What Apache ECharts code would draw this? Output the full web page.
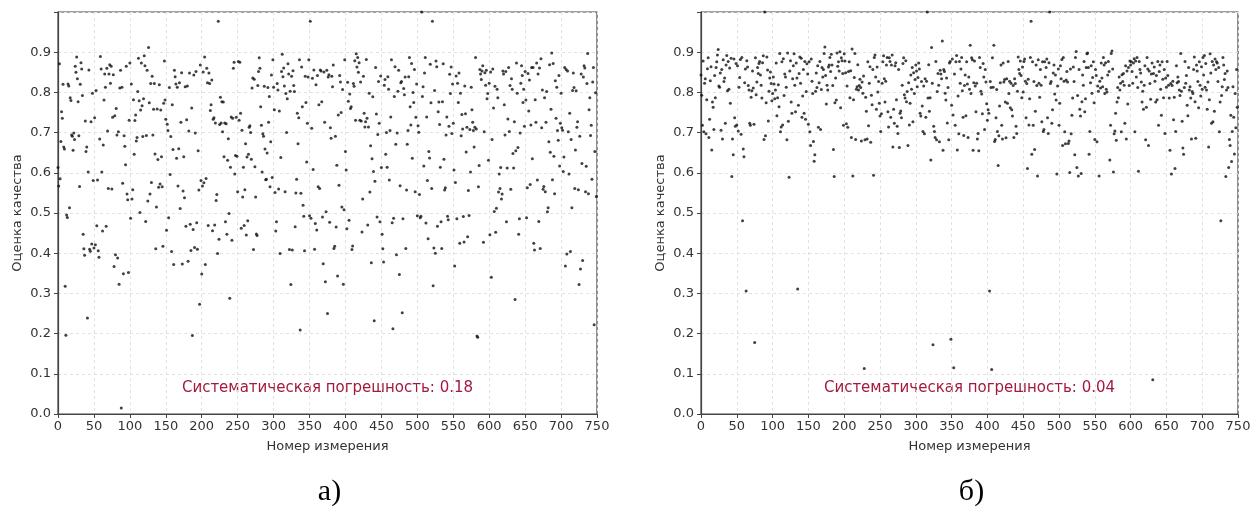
<!DOCTYPE html>
<html>
<head>
<meta charset="utf-8">
<script src="https://cdn.jsdelivr.net/npm/echarts@6/dist/echarts.min.js"></script>
<style>
  html, body { margin: 0; background: #fff; }
  #chart { width: 1257px; height: 511px; }
</style>
</head>
<body>
<div id="chart"></div>
<script>
// оценки качества, а) — с систематической погрешностью 0.18
const qualityA = [
  0.613,0.567,0.871,0.585,0.678,0.752,0.736,0.820,0.664,0.659,
  0.318,0.196,0.495,0.489,0.821,0.816,0.513,0.787,0.780,0.694,
  0.691,0.656,0.699,0.683,0.865,0.850,0.888,0.834,0.777,0.692,
  0.566,0.820,0.874,0.858,0.792,0.447,0.411,0.395,0.729,0.653,
  0.664,0.239,0.602,0.856,0.410,0.405,0.727,0.423,0.798,0.581,
  0.413,0.737,0.421,0.805,0.468,0.582,0.406,0.390,0.684,0.889,
  0.858,0.602,0.455,0.669,0.781,0.846,0.813,0.467,0.860,0.704,
  0.561,0.846,0.869,0.823,0.865,0.560,0.738,0.844,0.367,0.742,
  0.396,0.760,0.694,0.388,0.702,0.323,0.811,0.855,0.015,0.813,
  0.574,0.349,0.692,0.666,0.620,0.865,0.547,0.533,0.352,0.731,
  0.873,0.487,0.821,0.535,0.558,0.782,0.646,0.730,0.744,0.679,
  0.688,0.802,0.885,0.779,0.501,0.756,0.873,0.767,0.690,0.784,
  0.891,0.866,0.479,0.693,0.855,0.530,0.912,0.774,0.547,0.822,
  0.576,0.840,0.694,0.758,0.822,0.647,0.411,0.515,0.759,0.633,
  0.564,0.819,0.572,0.756,0.640,0.565,0.417,0.773,0.878,0.781,
  0.733,0.457,0.721,0.705,0.488,0.812,0.596,0.690,0.404,0.769,
  0.658,0.372,0.855,0.839,0.821,0.636,0.813,0.567,0.660,0.824,
  0.511,0.726,0.849,0.373,0.555,0.640,0.538,0.814,0.467,0.732,
  0.816,0.380,0.704,0.848,0.472,0.407,0.761,0.195,0.459,0.843,
  0.414,0.699,0.852,0.476,0.410,0.655,0.557,0.273,0.868,0.581,
  0.348,0.567,0.851,0.575,0.888,0.372,0.586,0.860,0.824,0.469,
  0.848,0.822,0.755,0.769,0.831,0.456,0.733,0.737,0.470,0.724,
  0.531,0.546,0.399,0.977,0.435,0.720,0.788,0.724,0.777,0.702,
  0.776,0.640,0.724,0.478,0.722,0.447,0.631,0.685,0.499,0.288,
  0.614,0.739,0.432,0.736,0.860,0.875,0.597,0.643,0.738,0.641,
  0.553,0.877,0.731,0.875,0.748,0.462,0.706,0.540,0.614,0.469,
  0.558,0.672,0.445,0.639,0.481,0.646,0.713,0.717,0.700,0.634,
  0.811,0.836,0.409,0.833,0.615,0.540,0.448,0.444,0.817,0.852,
  0.886,0.860,0.764,0.718,0.602,0.697,0.691,0.815,0.659,0.583,
  0.584,0.649,0.812,0.726,0.790,0.565,0.677,0.843,0.588,0.881,
  0.813,0.757,0.551,0.455,0.478,0.822,0.806,0.560,0.754,0.399,
  0.638,0.852,0.895,0.839,0.861,0.816,0.553,0.797,0.700,0.784,
  0.871,0.846,0.409,0.803,0.322,0.840,0.408,0.854,0.817,0.802,
  0.466,0.550,0.584,0.748,0.672,0.737,0.881,0.209,0.549,0.863,
  0.764,0.519,0.492,0.406,0.840,0.775,0.627,0.723,0.838,0.881,
  0.493,0.977,0.487,0.711,0.835,0.608,0.856,0.410,0.474,0.819,
  0.458,0.842,0.565,0.769,0.561,0.856,0.853,0.777,0.490,0.374,
  0.851,0.726,0.329,0.503,0.855,0.250,0.838,0.844,0.477,0.712,
  0.686,0.840,0.814,0.868,0.412,0.417,0.691,0.465,0.619,0.343,
  0.744,0.569,0.842,0.826,0.750,0.515,0.807,0.323,0.508,0.881,
  0.653,0.607,0.461,0.825,0.778,0.482,0.796,0.760,0.764,0.409,
  0.418,0.822,0.815,0.879,0.731,0.896,0.863,0.887,0.850,0.874,
  0.731,0.826,0.729,0.453,0.535,0.840,0.748,0.714,0.727,0.882,
  0.736,0.470,0.714,0.798,0.552,0.667,0.376,0.635,0.789,0.603,
  0.232,0.579,0.862,0.746,0.490,0.695,0.827,0.723,0.478,0.841,
  0.613,0.447,0.411,0.378,0.818,0.832,0.646,0.700,0.614,0.839,
  0.808,0.582,0.705,0.739,0.881,0.476,0.212,0.487,0.790,0.864,
  0.671,0.396,0.699,0.803,0.855,0.347,0.568,0.824,0.827,0.252,
  0.486,0.810,0.794,0.838,0.412,0.557,0.671,0.705,0.839,0.887,
  0.764,0.719,0.872,0.636,0.800,0.775,0.857,0.553,0.738,0.821,
  0.493,0.717,0.701,0.546,0.488,0.492,1.000,0.790,0.814,0.617,
  0.848,0.887,0.475,0.739,0.581,0.436,0.653,0.637,0.870,0.774,
  0.561,0.977,0.319,0.413,0.805,0.400,0.878,0.864,0.467,0.752,
  0.776,0.720,0.614,0.478,0.412,0.777,0.871,0.634,0.557,0.563,
  0.694,0.739,0.492,0.483,0.716,0.845,0.797,0.863,0.698,0.821,
  0.723,0.607,0.368,0.576,0.841,0.486,0.823,0.775,0.848,0.425,
  0.798,0.692,0.745,0.709,0.491,0.428,0.816,0.747,0.652,0.713,
  0.441,0.556,0.494,0.708,0.602,0.813,0.757,0.726,0.705,0.664,
  0.713,0.887,0.709,0.194,0.191,0.565,0.618,0.857,0.846,0.832,
  0.853,0.866,0.427,0.702,0.849,0.818,0.855,0.784,0.797,0.631,
  0.823,0.446,0.851,0.340,0.683,0.858,0.761,0.504,0.815,0.452,
  0.512,0.808,0.787,0.552,0.597,0.561,0.613,0.535,0.547,0.853,
  0.846,0.769,0.694,0.852,0.478,0.612,0.734,0.862,0.703,0.817,
  0.559,0.834,0.808,0.648,0.612,0.727,0.285,0.655,0.873,0.798,
  0.663,0.447,0.486,0.699,0.823,0.866,0.842,0.775,0.808,0.716,
  0.852,0.781,0.488,0.563,0.847,0.754,0.831,0.571,0.719,0.862,
  0.635,0.862,0.425,0.408,0.782,0.726,0.873,0.582,0.846,0.479,
  0.861,0.412,0.884,0.712,0.806,0.559,0.566,0.787,0.553,0.726,
  0.802,0.503,0.513,0.677,0.869,0.651,0.758,0.898,0.583,0.872,
  0.641,0.548,0.829,0.736,0.813,0.705,0.681,0.842,0.617,0.723,
  0.798,0.712,0.706,0.603,0.639,0.862,0.368,0.857,0.398,0.853,
  0.702,0.597,0.748,0.404,0.683,0.513,0.805,0.848,0.812,0.561,
  0.657,0.804,0.713,0.727,0.558,0.322,0.691,0.361,0.846,0.623,
  0.382,0.838,0.866,0.861,0.553,0.616,0.822,0.897,0.548,0.757,
  0.787,0.693,0.718,0.584,0.826,0.862,0.222,0.653,0.799,0.541
];

// оценки качества, б) — с систематической погрешностью 0.04
const qualityB = [
  0.843,0.793,0.718,0.878,0.702,0.823,0.834,0.697,0.782,0.859,
  0.886,0.688,0.733,0.829,0.864,0.657,0.776,0.763,0.708,0.842,
  0.787,0.862,0.876,0.893,0.907,0.816,0.813,0.848,0.706,0.857,
  0.684,0.881,0.827,0.836,0.723,0.868,0.892,0.804,0.877,0.808,
  0.861,0.773,0.885,0.591,0.684,0.645,0.883,0.737,0.716,0.872,
  0.719,0.866,0.704,0.813,0.837,0.882,0.696,0.887,0.481,0.659,
  0.640,0.824,0.858,0.306,0.879,0.863,0.817,0.806,0.723,0.718,
  0.788,0.804,0.853,0.811,0.721,0.178,0.886,0.794,0.826,0.862,
  0.847,0.872,0.877,0.843,0.818,0.786,0.874,0.891,0.683,1.000,
  0.692,0.774,0.888,0.856,0.729,0.803,0.836,0.851,0.822,0.779,
  0.797,0.838,0.821,0.784,0.806,0.873,0.742,0.787,0.819,0.764,
  0.897,0.702,0.714,0.876,0.719,0.884,0.792,0.846,0.838,0.813,
  0.682,0.898,0.728,0.589,0.853,0.879,0.776,0.748,0.834,0.866,
  0.896,0.818,0.752,0.873,0.836,0.311,0.768,0.847,0.888,0.823,
  0.885,0.738,0.791,0.857,0.748,0.877,0.733,0.802,0.871,0.846,
  0.721,0.876,0.702,0.668,0.883,0.828,0.797,0.678,0.629,0.645,
  0.803,0.848,0.812,0.866,0.713,0.824,0.877,0.708,0.807,0.862,
  0.838,0.857,0.897,0.913,0.842,0.771,0.818,0.806,0.863,0.868,
  0.887,0.852,0.895,0.868,0.817,0.658,0.591,0.774,0.836,0.781,
  0.898,0.865,0.876,0.853,0.901,0.762,0.886,0.879,0.847,0.718,
  0.896,0.878,0.849,0.722,0.816,0.713,0.852,0.876,0.787,0.854,
  0.688,0.908,0.592,0.782,0.837,0.897,0.683,0.808,0.814,0.869,
  0.806,0.817,0.833,0.812,0.679,0.826,0.798,0.841,0.113,0.682,
  0.788,0.753,0.684,0.876,0.717,0.823,0.864,0.676,0.793,0.769,
  0.857,0.594,0.887,0.893,0.838,0.758,0.863,0.801,0.827,0.773,
  0.741,0.703,0.747,0.823,0.876,0.891,0.834,0.776,0.828,0.868,
  0.887,0.752,0.714,0.886,0.877,0.738,0.868,0.893,0.664,0.758,
  0.723,0.866,0.874,0.782,0.716,0.698,0.857,0.663,0.748,0.754,
  0.737,0.818,0.872,0.886,0.794,0.786,0.879,0.777,0.802,0.668,
  0.824,0.719,0.773,0.843,0.808,0.862,0.727,0.849,0.797,0.832,
  0.868,0.853,0.814,0.837,0.873,0.858,0.748,0.741,0.827,0.766,
  0.703,0.816,0.697,0.834,0.738,0.828,1.000,0.786,0.869,0.753,
  0.787,0.632,0.912,0.823,0.172,0.716,0.703,0.688,0.877,0.682,
  0.802,0.847,0.818,0.677,0.855,0.846,0.834,0.928,0.656,0.857,
  0.852,0.798,0.781,0.836,0.724,0.812,0.682,0.873,0.877,0.186,
  0.768,0.883,0.744,0.115,0.846,0.718,0.876,0.892,0.657,0.791,
  0.697,0.877,0.823,0.858,0.887,0.804,0.738,0.693,0.817,0.843,
  0.742,0.876,0.821,0.688,0.838,0.808,0.917,0.797,0.886,0.881,
  0.656,0.824,0.878,0.816,0.752,0.823,0.684,0.698,0.655,0.887,
  0.862,0.803,0.796,0.747,0.872,0.838,0.708,0.857,0.826,0.772,
  0.731,0.757,0.748,0.306,0.827,0.812,0.111,0.886,0.813,0.917,
  0.678,0.683,0.737,0.807,0.703,0.618,0.692,0.766,0.824,0.868,
  0.718,0.684,0.873,0.826,0.832,0.776,0.687,0.834,0.773,0.877,
  0.797,0.828,0.762,0.823,0.757,0.741,0.817,0.688,0.834,0.822,
  0.716,0.698,0.803,0.888,0.857,0.847,0.878,0.842,0.787,0.863,
  0.801,0.877,0.883,0.828,0.737,0.822,0.611,0.833,0.719,0.784,
  0.887,0.977,0.646,0.876,0.718,0.827,0.658,0.753,0.868,0.817,
  0.592,0.881,0.823,0.788,0.857,0.818,0.727,0.876,0.703,0.708,
  0.876,0.838,0.862,0.883,0.737,0.698,0.874,1.000,0.822,0.827,
  0.723,0.757,0.848,0.868,0.796,0.843,0.781,0.597,0.816,0.858,
  0.718,0.773,0.866,0.834,0.882,0.668,0.887,0.828,0.702,0.672,
  0.831,0.852,0.826,0.673,0.679,0.601,0.858,0.697,0.743,0.786,
  0.863,0.827,0.645,0.887,0.902,0.613,0.792,0.592,0.857,0.758,
  0.741,0.598,0.777,0.843,0.818,0.877,0.752,0.784,0.862,0.896,
  0.898,0.862,0.646,0.703,0.824,0.866,0.798,0.837,0.876,0.774,
  0.683,0.857,0.842,0.677,0.816,0.803,0.592,0.828,0.811,0.873,
  0.836,0.814,0.887,0.868,0.797,0.874,0.808,0.801,0.843,0.877,
  0.852,0.632,0.718,0.897,0.903,0.858,0.602,0.697,0.704,0.748,
  0.681,0.776,0.812,0.787,0.838,0.806,0.823,0.702,0.844,0.827,
  0.847,0.818,0.723,0.866,0.684,0.853,0.771,0.862,0.817,0.878,
  0.868,0.876,0.852,0.823,0.873,0.884,0.702,0.878,0.838,0.887,
  0.812,0.604,0.877,0.857,0.848,0.826,0.776,0.803,0.758,0.818,
  0.866,0.682,0.763,0.887,0.858,0.668,0.853,0.822,0.783,0.846,
  0.873,0.085,0.847,0.863,0.828,0.776,0.842,0.782,0.877,0.718,
  0.852,0.868,0.808,0.743,0.876,0.833,0.787,0.857,0.698,0.836,
  0.813,0.877,0.842,0.818,0.786,0.656,0.822,0.597,0.817,0.828,
  0.732,0.788,0.611,0.703,0.866,0.824,0.838,0.827,0.806,0.792,
  0.897,0.803,0.728,0.662,0.646,0.812,0.877,0.823,0.842,0.768,
  0.742,0.862,0.806,0.814,0.786,0.684,0.802,0.797,0.857,0.888,
  0.777,0.686,0.868,0.853,0.827,0.762,0.876,0.818,0.791,0.864,
  0.808,0.887,0.843,0.892,0.813,0.872,0.806,0.758,0.826,0.664,
  0.782,0.896,0.848,0.723,0.877,0.727,0.868,0.753,0.883,0.857,
  0.876,0.873,0.827,0.862,0.702,0.776,0.481,0.792,0.814,0.887,
  0.868,0.832,0.847,0.591,0.806,0.853,0.812,0.613,0.683,0.668,
  0.743,0.628,0.703,0.814,0.738,0.647,0.797,0.712,0.857,0.763
];

const errors = [0.18, 0.04];
const captions = ['а)', 'б)'];
const xName = 'Номер измерения';
const yName = 'Оценка качества';

const chart = echarts.init(document.getElementById('chart'));

const font = 'DejaVu Sans';
const axisColor = '#444';
const gridsPos = [
  { left: 58, top: 12, width: 539, height: 402 },
  { left: 701, top: 12, width: 537, height: 402 }
];

function makeXAxis(i) {
  return {
    type: 'value', gridIndex: i, min: 0, max: 750, interval: 50,
    name: xName, nameLocation: 'middle', nameGap: 26,
    nameTextStyle: { color: '#333', fontSize: 13, fontFamily: font },
    axisLine: { onZero: false, lineStyle: { color: axisColor, width: 1.2 } },
    axisTick: { show: true, length: 4, lineStyle: { color: axisColor } },
    axisLabel: { color: '#333', fontSize: 13, margin: 6, fontFamily: font },
    splitLine: { show: true, lineStyle: { color: '#e2e2e2', type: [3, 3] } }
  };
}

function makeYAxis(i) {
  return {
    type: 'value', gridIndex: i, min: 0, max: 1, interval: 0.1,
    name: yName, nameLocation: 'middle', nameGap: 34,
    nameTextStyle: { color: '#333', fontSize: 13, fontFamily: font },
    axisLine: { onZero: false, lineStyle: { color: axisColor, width: 1.2 } },
    axisTick: { show: true, length: 4, lineStyle: { color: axisColor } },
    axisLabel: {
      color: '#333', fontSize: 13, margin: 7, fontFamily: font,
      formatter: v => (v > 0.95 ? '' : v.toFixed(1))
    },
    splitLine: { show: true, lineStyle: { color: '#e2e2e2', type: [3, 3] } }
  };
}

const option = {
  animation: false,
  backgroundColor: '#fff',
  grid: gridsPos.map(g => Object.assign({
    show: true, borderColor: axisColor, borderWidth: 1.2, backgroundColor: '#fff'
  }, g)),
  xAxis: [makeXAxis(0), makeXAxis(1)],
  yAxis: [makeYAxis(0), makeYAxis(1)],
  series: [qualityA, qualityB].map((arr, i) => ({
    type: 'scatter',
    xAxisIndex: i, yAxisIndex: i,
    data: arr.map((v, k) => [k, v]),
    symbolSize: 3,
    itemStyle: { color: '#111' },
    silent: true
  })),
  graphic: gridsPos.flatMap((g, i) => [
    {
      type: 'text', x: g.left + g.width / 2, y: 388,
      style: {
        text: 'Систематическая погрешность: ' + errors[i].toFixed(2),
        fill: '#a3193f', font: '15px "DejaVu Sans"',
        align: 'center', verticalAlign: 'middle',
        textAlign: 'center', textVerticalAlign: 'middle'
      }
    },
    {
      type: 'text', x: g.left + g.width / 2 + 2, y: 492,
      style: {
        text: captions[i],
        fill: '#000', font: '30px "Liberation Serif"',
        align: 'center', verticalAlign: 'middle',
        textAlign: 'center', textVerticalAlign: 'middle'
      }
    }
  ])
};

chart.setOption(option);
</script>
</body>
</html>
